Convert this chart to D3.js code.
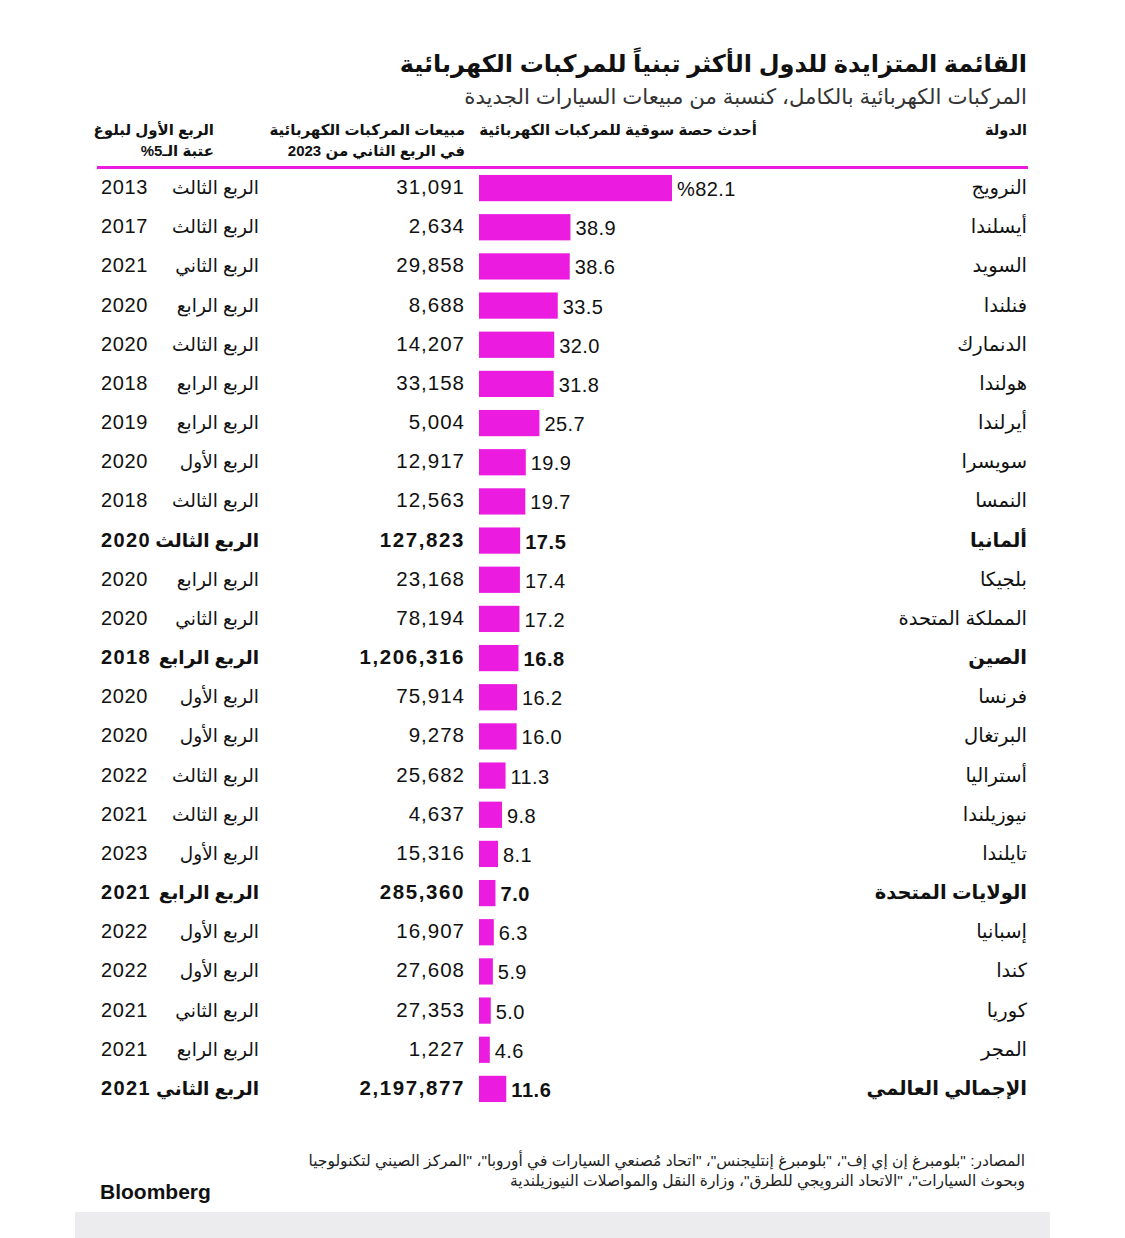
<!DOCTYPE html>
<html><head><meta charset="utf-8">
<script src="https://cdn.jsdelivr.net/npm/d3@7"></script>
<style>
body{margin:0;background:#fff;}
svg text{font-family:'Liberation Sans','DejaVu Sans',sans-serif;fill:#111;}
</style></head>
<body><div id="chart"></div>
<script>
const countries=["النرويج","أيسلندا","السويد","فنلندا","الدنمارك","هولندا","أيرلندا","سويسرا","النمسا","ألمانيا","بلجيكا","المملكة المتحدة","الصين","فرنسا","البرتغال","أستراليا","نيوزيلندا","تايلندا","الولايات المتحدة","إسبانيا","كندا","كوريا","المجر","الإجمالي العالمي"];
const shares=[82.1,38.9,38.6,33.5,32.0,31.8,25.7,19.9,19.7,17.5,17.4,17.2,16.8,16.2,16.0,11.3,9.8,8.1,7.0,6.3,5.9,5.0,4.6,11.6];
const sales=[31091,2634,29858,8688,14207,33158,5004,12917,12563,127823,23168,78194,1206316,75914,9278,25682,4637,15316,285360,16907,27608,27353,1227,2197877];
const quarters=["الربع الثالث","الربع الثالث","الربع الثاني","الربع الرابع","الربع الثالث","الربع الرابع","الربع الرابع","الربع الأول","الربع الثالث","الربع الثالث","الربع الرابع","الربع الثاني","الربع الرابع","الربع الأول","الربع الأول","الربع الثالث","الربع الثالث","الربع الأول","الربع الرابع","الربع الأول","الربع الأول","الربع الثاني","الربع الرابع","الربع الثاني"];
const years=[2013,2017,2021,2020,2020,2018,2019,2020,2018,2020,2020,2020,2018,2020,2020,2022,2021,2023,2021,2022,2022,2021,2021,2021];
const boldRows=["ألمانيا","الصين","الولايات المتحدة","الإجمالي العالمي"];

const W=1125,H=1238;
const svg=d3.select("#chart").append("svg").attr("width",W).attr("height",H);
const magenta="#ec1be0";

function rtlText(x,y,txt,size,weight,fill,ls){
  return svg.append("text").attr("x",x).attr("y",y).attr("text-anchor","start")
    .attr("direction","rtl").style("unicode-bidi","embed")
    .style("font-size",size+"px").style("font-weight",weight||"normal")
    .style("fill",fill||"#111").style("letter-spacing",(ls||0)+"px").text(txt);
}

// footer band
svg.append("rect").attr("x",75).attr("y",1212).attr("width",975).attr("height",26).attr("fill","#ececee");

// title
rtlText(1027,72,"القائمة المتزايدة للدول الأكثر تبنياً للمركبات الكهربائية",24,"bold","#111",-0.1);
rtlText(1027,104,"المركبات الكهربائية بالكامل، كنسبة من مبيعات السيارات الجديدة",21.3,"normal","#333");

// headers
const hdr=[[1027,["الدولة"],14.5],[757,["أحدث حصة سوقية للمركبات الكهربائية"],15],[465,["مبيعات المركبات الكهربائية","في الربع الثاني من 2023"],15],[214,["الربع الأول لبلوغ","عتبة الـ5%"],15]];
hdr.forEach(([x,lines,fs])=>{
  lines.forEach((l,i)=>rtlText(x,135+i*21,l,fs,"bold","#111"));
});
svg.append("rect").attr("x",97).attr("y",166).attr("width",931).attr("height",3).attr("fill",magenta);

// scales
const y=d3.scaleBand().domain(countries).range([168.5,1108.5]).paddingInner(0.33).paddingOuter(0.165);
const x=d3.scaleLinear().domain([0,82.1]).range([479,672]);

const rows=svg.append("g").selectAll("g").data(countries).join("g")
  .attr("transform",d=>`translate(0,${y(d)})`);
const bh=y.bandwidth();
const isBold=d=>boldRows.includes(d);
const fw=d=>isBold(d)?"bold":"normal";

rows.append("rect").attr("x",x(0)).attr("y",0).attr("height",bh)
  .attr("width",(d,i)=>x(shares[i])-x(0)).attr("fill",magenta);
rows.append("text").attr("x",(d,i)=>x(shares[i])+5).attr("y",bh/2+8)
  .style("font-size","20px").style("font-weight",fw).style("letter-spacing",d=>isBold(d)?"0.6px":"0.4px")
  .text((d,i)=>i===0?"%"+d3.format(".1f")(shares[i]):d3.format(".1f")(shares[i]));
rows.append("text").attr("x",1027).attr("y",bh/2+6).attr("text-anchor","end")
  .style("font-size","19.5px").style("font-weight",fw).text(d=>d);
rows.append("text").attr("x",465).attr("y",bh/2+6).attr("text-anchor","end")
  .style("font-size","20.5px").style("font-weight",fw).style("letter-spacing",d=>isBold(d)?"1.6px":"1px")
  .text((d,i)=>d3.format(",")(sales[i]));
rows.append("text").attr("x",259).attr("y",bh/2+6).attr("text-anchor","end")
  .style("font-size","18.5px").style("font-weight",fw).text((d,i)=>quarters[i]);
rows.append("text").attr("x",101).attr("y",bh/2+6).attr("text-anchor","start")
  .style("font-size","20px").style("font-weight",fw).style("letter-spacing",d=>isBold(d)?"1.4px":"0.6px")
  .text((d,i)=>years[i]);

// footer
rtlText(1025,1166,"المصادر: \"بلومبرغ إن إي إف\"، \"بلومبرغ إنتليجنس\"، \"اتحاد مُصنعي السيارات في أوروبا\"، \"المركز الصيني لتكنولوجيا",15.5,"normal","#222");
rtlText(1025,1186,"وبحوث السيارات\"، \"الاتحاد النرويجي للطرق\"، وزارة النقل والمواصلات النيوزيلندية",15.5,"normal","#222");
svg.append("text").attr("x",100).attr("y",1199).style("font-size","21px").style("font-weight","bold").text("Bloomberg");
</script></body></html>
